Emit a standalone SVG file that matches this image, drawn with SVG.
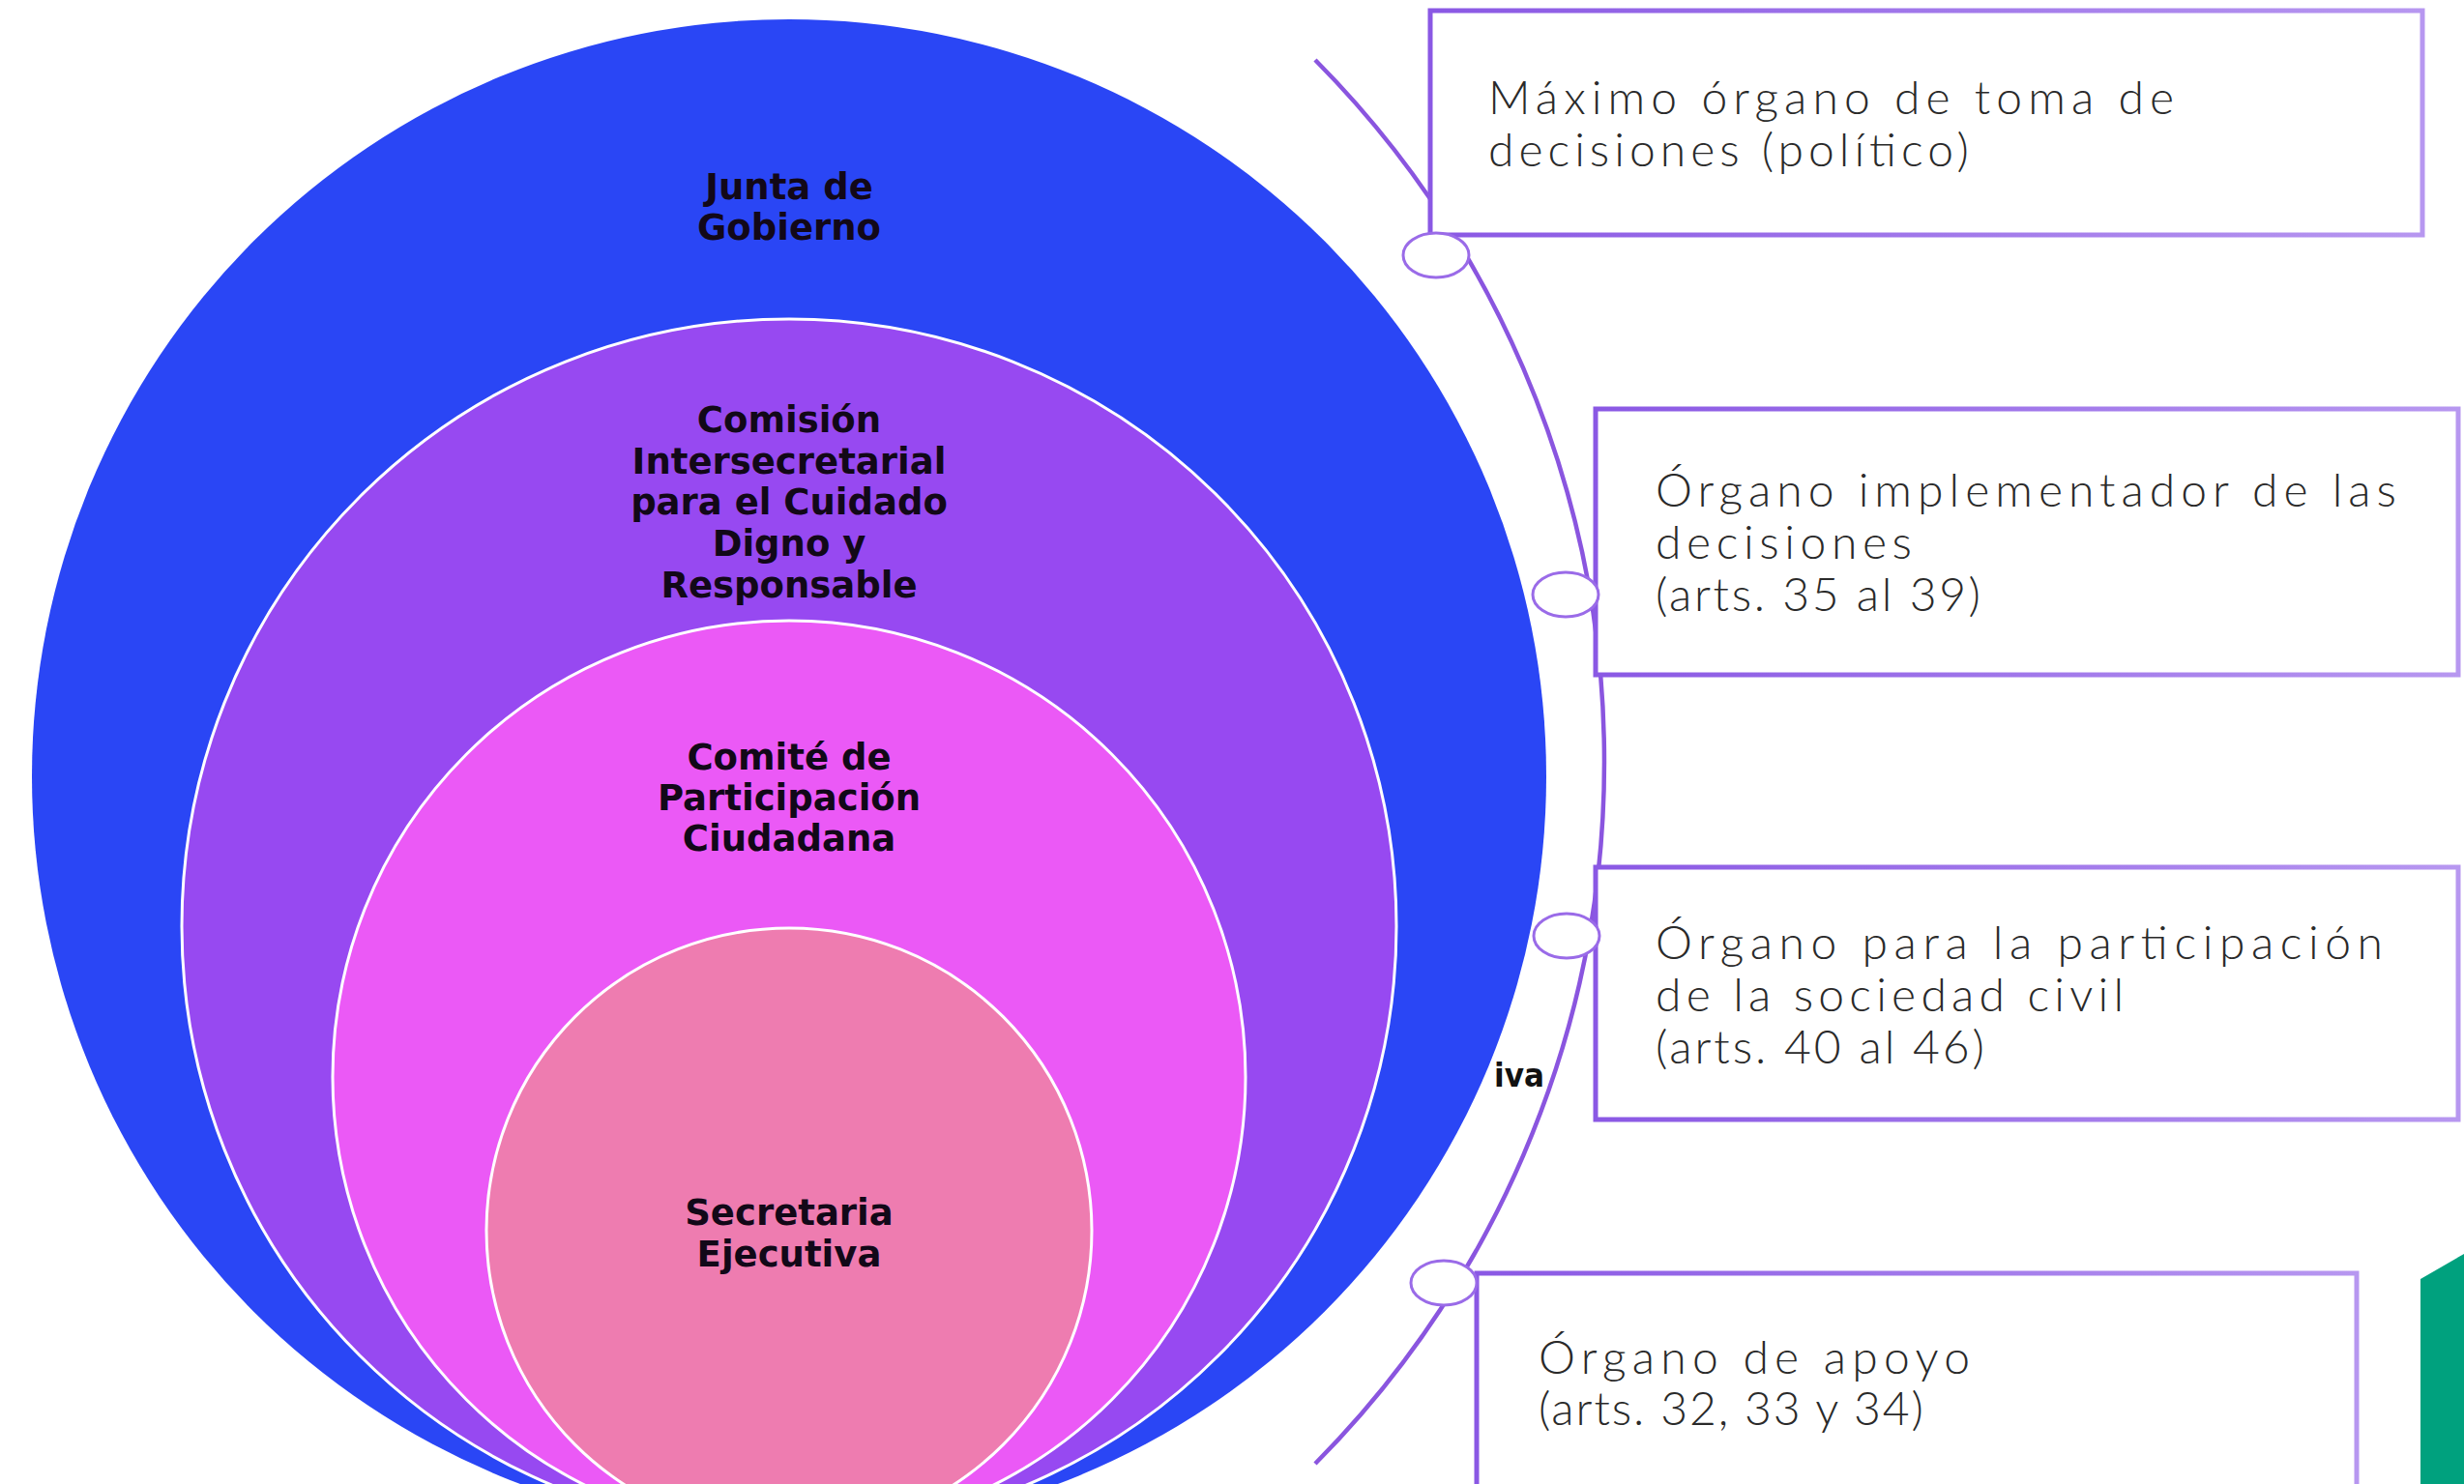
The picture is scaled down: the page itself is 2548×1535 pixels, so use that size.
<svg xmlns="http://www.w3.org/2000/svg" width="2548" height="1535" viewBox="0 0 2548 1535">
<defs>
<linearGradient id="boxStroke" x1="0" y1="0" x2="1" y2="0">
<stop offset="0" stop-color="#8A58E4"/>
<stop offset="1" stop-color="#B797F0"/>
</linearGradient>
<style>
.ring{stroke:#FFFFFF;stroke-width:3}
.lbl{font-family:"DejaVu Sans","Liberation Sans",sans-serif;font-weight:bold;font-size:37px;fill:#120818;text-anchor:middle}
.box{fill:#FFFFFF;stroke:url(#boxStroke);stroke-width:5}
.desc{font-family:Lato,"Open Sans","Noto Sans",sans-serif;font-weight:300;font-size:48px;fill:#2A2A2A}
.marker{fill:#FFFFFF;stroke:#9A6BE8;stroke-width:3}
.arc{fill:none;stroke:#8A55DF;stroke-width:4.5}
</style>
</defs>
<rect x="0" y="0" width="2548" height="1535" fill="#FFFFFF"/>

<g id="junta-de-gobierno">
<circle cx="816" cy="803" r="783" fill="#2A46F5"/>
<text class="lbl" x="816" y="206">Junta de</text>
<text class="lbl" x="816" y="248">Gobierno</text>
</g>
<g id="comision-intersecretarial">
<circle class="ring" cx="816" cy="958" r="628" fill="#9749F1"/>
<text class="lbl" x="816" y="447">Comisión</text>
<text class="lbl" x="816" y="490">Intersecretarial</text>
<text class="lbl" x="816" y="532">para el Cuidado</text>
<text class="lbl" x="816" y="575">Digno y</text>
<text class="lbl" x="816" y="618">Responsable</text>
</g>
<g id="comite-participacion">
<circle class="ring" cx="816" cy="1114" r="472" fill="#EB59F6"/>
<text class="lbl" x="816" y="796">Comité de</text>
<text class="lbl" x="816" y="838">Participación</text>
<text class="lbl" x="816" y="880">Ciudadana</text>
</g>
<g id="secretaria-ejecutiva">
<circle class="ring" cx="816" cy="1273" r="313" fill="#EE7CB0"/>
<text class="lbl" x="816" y="1267">Secretaria</text>
<text class="lbl" x="816" y="1310">Ejecutiva</text>
</g>
<g id="fragment-iva">
<text x="1545" y="1124" font-family="DejaVu Sans, sans-serif" font-weight="bold" font-size="34" fill="#111111" textLength="52" lengthAdjust="spacingAndGlyphs">iva</text>
</g>

<g id="connectors">
<path class="arc" d="M1360 62 A1031 1031 0 0 1 1360 1514"/>
</g>

<g id="box-maximo-organo">
<rect class="box" x="1479" y="11" width="1026" height="232"/>
<text class="desc" x="1539" y="118" textLength="709" lengthAdjust="spacing">Máximo órgano de toma de</text>
<text class="desc" x="1539" y="172" textLength="497" lengthAdjust="spacing">decisiones (político)</text>
</g>
<g id="box-organo-implementador">
<rect class="box" x="1650" y="423" width="892" height="275"/>
<text class="desc" x="1712" y="524" textLength="766" lengthAdjust="spacing">Órgano implementador de las</text>
<text class="desc" x="1712" y="578" textLength="265" lengthAdjust="spacing">decisiones</text>
<text class="desc" x="1712" y="632" textLength="336" lengthAdjust="spacing">(arts. 35 al 39)</text>
</g>
<g id="box-organo-participacion">
<rect class="box" x="1650" y="897" width="892" height="261"/>
<text class="desc" x="1712" y="992" textLength="752" lengthAdjust="spacing">Órgano para la participación</text>
<text class="desc" x="1712" y="1046" textLength="484" lengthAdjust="spacing">de la sociedad civil</text>
<text class="desc" x="1712" y="1100" textLength="340" lengthAdjust="spacing">(arts. 40 al 46)</text>
</g>
<g id="box-organo-apoyo">
<rect class="box" x="1527" y="1317" width="910" height="240"/>
<text class="desc" x="1591" y="1421" textLength="446" lengthAdjust="spacing">Órgano de apoyo</text>
<text class="desc" x="1591" y="1474" textLength="398" lengthAdjust="spacing">(arts. 32, 33 y 34)</text>
</g>

<g id="markers">
<ellipse class="marker" cx="1485" cy="264" rx="34" ry="23"/>
<ellipse class="marker" cx="1619" cy="615" rx="34" ry="23"/>
<ellipse class="marker" cx="1620" cy="968" rx="34" ry="23"/>
<ellipse class="marker" cx="1493" cy="1327" rx="34" ry="23"/>
</g>

<g id="green-corner">
<polygon points="2503,1323 2548,1297 2548,1535 2503,1535" fill="#00A17E"/>
</g>
</svg>
